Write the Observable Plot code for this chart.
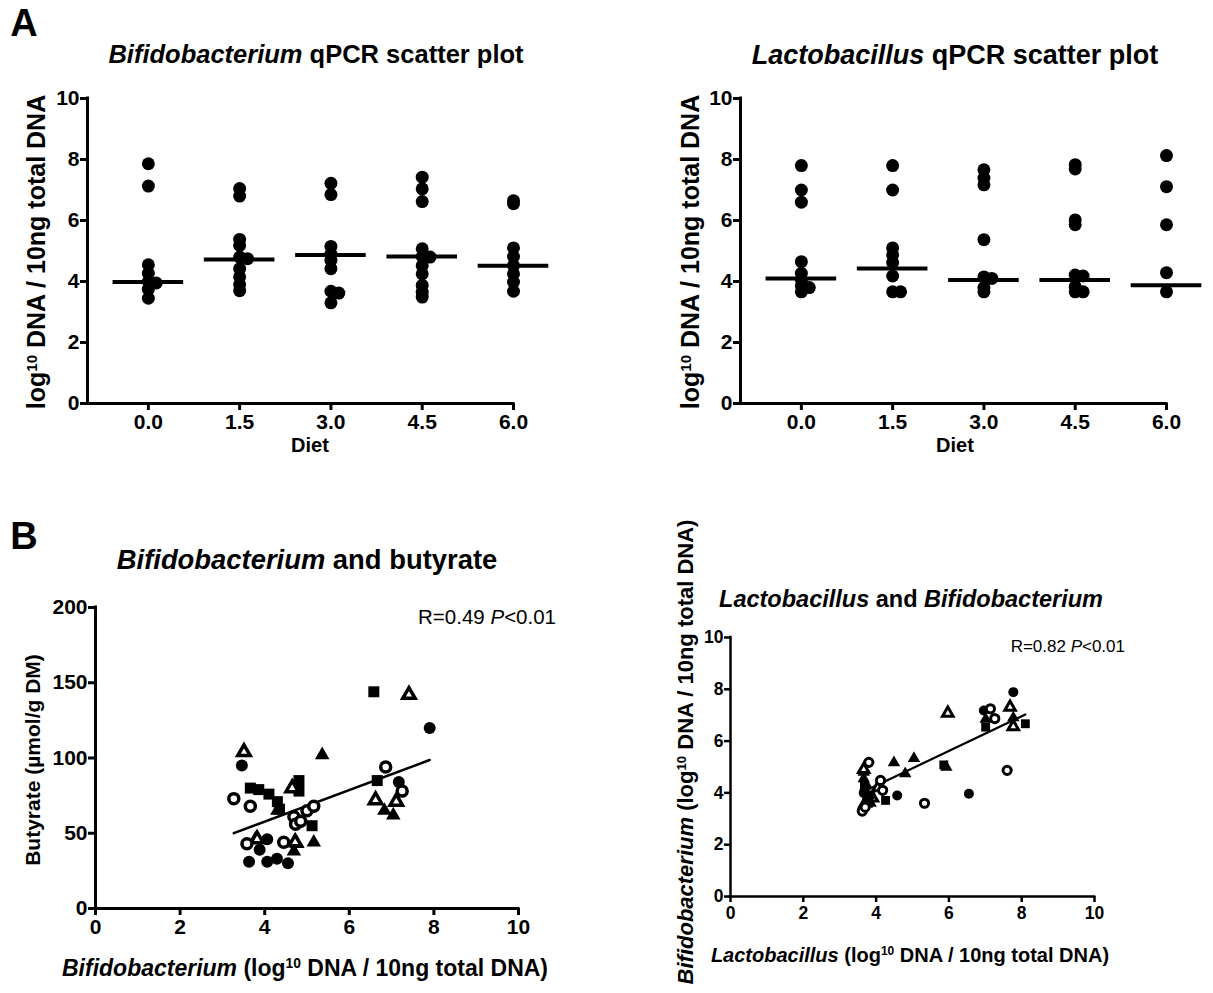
<!DOCTYPE html>
<html><head><meta charset="utf-8">
<script src="https://cdn.jsdelivr.net/npm/d3@7"></script>
<script src="https://cdn.jsdelivr.net/npm/@observablehq/plot@0.6"></script>
<style>
body{margin:0;background:#fff;font-family:"Liberation Sans",Arial,sans-serif;}
#wrap{position:relative;width:1213px;height:993px;overflow:hidden;background:#fff;}
.abs{position:absolute;white-space:nowrap;line-height:1;color:#000;}
.sup{font-size:0.6em;position:relative;top:-0.55em;}
</style></head><body><div id="wrap"></div>
<script>
// ---------- Panel A data (log10 DNA / 10ng total DNA) ----------
const diets = [0, 1.5, 3, 4.5, 6];
const dietLabels = ["0.0", "1.5", "3.0", "4.5", "6.0"];
const yTicksA = [0, 2, 4, 6, 8, 10];

const bifidoByDiet = [
  [7.86, 7.13, 4.55, 4.27, 4.0, 3.95, 3.75, 3.45],
  [7.05, 6.8, 5.38, 5.18, 4.8, 4.75, 4.42, 4.15, 3.9, 3.7],
  [7.22, 6.85, 5.15, 4.9, 4.7, 4.42, 3.68, 3.62, 3.3],
  [7.42, 7.04, 6.62, 5.07, 4.82, 4.8, 4.52, 4.25, 3.87, 3.65, 3.49],
  [6.65, 6.55, 5.1, 4.82, 4.52, 4.25, 3.98, 3.68]
];
const bifidoMedians = [3.98, 4.72, 4.87, 4.82, 4.52];

const lactoByDiet = [
  [7.8, 7.0, 6.6, 4.65, 4.27, 4.05, 3.85, 3.8, 3.66],
  [7.8, 7.0, 5.1, 4.87, 4.62, 4.18, 3.66, 3.66],
  [7.66, 7.39, 7.17, 5.37, 4.15, 4.1, 3.8, 3.66],
  [7.83, 7.69, 6.02, 5.86, 4.21, 4.18, 3.83, 3.66, 3.66],
  [8.13, 7.11, 5.86, 4.29, 3.66]
];
const lactoMedians = [4.1, 4.43, 4.05, 4.05, 3.88];

// ---------- Panel B left: [Bifidobacterium, butyrate] ----------
const b1FilledCircle = [[7.9,120],[7.17,84],[3.46,95],[3.63,31],[4.06,31],[4.29,33],[4.55,30],[3.88,39],[4.06,46]];
const b1OpenCircle = [[3.27,73],[3.66,68],[4.69,61],[4.73,56],[4.85,58],[5.0,65],[5.16,68],[3.58,43],[4.45,44],[6.86,94],[7.25,78]];
const b1Square = [[6.58,144],[6.66,85],[3.66,80],[3.86,79],[4.1,76],[4.3,71],[4.35,66],[4.81,85],[4.81,78],[5.12,55]];
const b1FilledTriangle = [[5.36,102],[5.16,44],[4.77,43],[4.69,38],[4.3,65],[3.78,46],[6.83,65],[7.04,62]];
const b1OpenTriangle = [[3.51,104],[7.41,142],[6.62,72],[7.11,71],[4.65,80],[3.82,46],[4.72,44]];
const b1Fit = {intercept: 15.7, slope: 10.5};
const b1XTicks = [0, 2, 4, 6, 8, 10];
const b1YTicks = [0, 50, 100, 150, 200];

// ---------- Panel B right: [Lactobacillus, Bifidobacterium] ----------
const b2FilledCircle = [[7.77,7.89],[6.96,7.18],[6.55,3.97],[4.58,3.9],[3.7,4.2],[3.7,3.5],[3.85,3.9],[3.66,4.0],[3.75,3.75]];
const b2OpenCircle = [[7.14,7.25],[7.26,6.87],[7.6,4.87],[5.33,3.6],[4.12,4.48],[4.18,4.1],[3.8,5.18],[3.62,3.3],[3.7,3.45]];
const b2Square = [[8.1,6.67],[7.01,6.54],[5.86,5.08],[4.26,3.71],[3.7,4.05],[3.78,3.7],[3.85,3.85],[3.68,4.3]];
const b2FilledTriangle = [[7.01,6.85],[7.77,6.9],[5.04,5.33],[4.49,5.17],[4.8,4.74],[5.93,4.99],[3.66,4.8],[3.66,4.55],[3.72,4.35],[3.85,3.6]];
const b2OpenTriangle = [[7.68,7.31],[7.77,6.56],[5.97,7.08],[3.66,4.9],[3.7,3.6],[3.9,3.8],[4.05,4.2]];
const b2Fit = {intercept: 1.6, slope: 0.67};
const b2Ticks = [0, 2, 4, 6, 8, 10];

// ---------- helpers ----------
const wrap = document.getElementById("wrap");
const FONT = '"Liberation Sans", Arial, sans-serif';
function place(svg, left, top) {
  svg.style.position = "absolute";
  svg.style.left = left + "px";
  svg.style.top = top + "px";
  wrap.appendChild(svg);
}
function addText(html, x, y, size, opts = {}) {
  const d = document.createElement("div");
  d.className = "abs";
  d.innerHTML = html;
  d.style.left = x + "px";
  d.style.top = y + "px";
  d.style.fontSize = size + "px";
  d.style.fontWeight = opts.weight || "bold";
  const tx = opts.anchor === "end" ? "-100%" : opts.anchor === "start" ? "0" : "-50%";
  d.style.transform = `translate(${tx},-50%)` + (opts.rotate ? " rotate(-90deg)" : "");
  wrap.appendChild(d);
}
// GraphPad-like column scatter: shift overlapping points sideways
function columnScatter(groups, thr) {
  const out = [];
  groups.forEach((vals, i) => {
    const placed = [];
    vals.forEach(v => {
      let chosen = 1;
      for (const o of [0, 1, -1, 2]) {
        if (placed.every(p => p.o !== o || Math.abs(p.v - v) >= thr)) { chosen = o; break; }
      }
      placed.push({v, o: chosen});
      out.push({diet: diets[i], value: v, shift: chosen});
    });
  });
  return out;
}
const baseStyle = {fontFamily: FONT, background: "transparent", overflow: "visible", color: "black"};

function scatterA(groups, medians) {
  const pts = columnScatter(groups, 0.09);
  const med = diets.map((d, i) => ({diet: d, m: medians[i]}));
  return Plot.plot({
    width: 540, height: 360, marginLeft: 87, marginRight: 27, marginTop: 18, marginBottom: 37,
    style: baseStyle,
    x: {domain: [-1, 6]}, y: {domain: [0, 10]},
    marks: [
      Plot.axisY({ticks: yTicksA, tickSize: 7, tickPadding: 1, strokeWidth: 3, label: null, fontSize: 21, fontWeight: "bold"}),
      Plot.axisX({ticks: diets, tickFormat: d => dietLabels[diets.indexOf(d)], tickSize: 7, tickPadding: 4, strokeWidth: 3, label: null, fontSize: 21, fontWeight: "bold"}),
      Plot.ruleY([0], {strokeWidth: 3, strokeLinecap: "square"}),
      Plot.ruleX([-1], {strokeWidth: 3, strokeLinecap: "square"}),
      Plot.dot(pts, {x: d => d.diet + d.shift * 0.13, y: "value", r: 6.5, fill: "black"}),
      Plot.ruleY(med, {y: "m", x1: d => d.diet - 0.58, x2: d => d.diet + 0.58, strokeWidth: 4})
    ]
  });
}

function fitLine(groups, fit) {
  const xs = groups.flat().map(p => p[0]);
  return d3.extent(xs).map(x => ({x, y: fit.intercept + fit.slope * x}));
}

function symbolMarks(sets, rr, sw) {
  const [fc, oc, sq, ft, ot] = sets;
  const X = p => p[0], Y = p => p[1];
  return [
    Plot.dot(sq, {x: X, y: Y, symbol: "square", r: rr.square, fill: "black"}),
    Plot.dot(ft, {x: X, y: Y, symbol: "triangle", r: rr.tri, fill: "black"}),
    Plot.dot(ot, {x: X, y: Y, symbol: "triangle", r: rr.otri, fill: "white", stroke: "black", strokeWidth: sw}),
    Plot.dot(fc, {x: X, y: Y, symbol: "circle", r: rr.circle, fill: "black"}),
    Plot.dot(oc, {x: X, y: Y, symbol: "circle", r: rr.open, fill: "white", stroke: "black", strokeWidth: sw})
  ];
}

// ---------- Panel A ----------
place(scatterA(bifidoByDiet, bifidoMedians), 0, 80);
place(scatterA(lactoByDiet, lactoMedians), 653, 80);

// ---------- Panel B left ----------
const b1Sets = [b1FilledCircle, b1OpenCircle, b1Square, b1FilledTriangle, b1OpenTriangle];
place(Plot.plot({
  width: 545, height: 360, marginLeft: 95, marginRight: 27, marginTop: 17, marginBottom: 42,
  style: baseStyle,
  x: {domain: [0, 10]}, y: {domain: [0, 200]},
  marks: [
    Plot.axisY({ticks: b1YTicks, tickSize: 7, tickPadding: 1, strokeWidth: 3, label: null, fontSize: 21, fontWeight: "bold"}),
    Plot.axisX({ticks: b1XTicks, tickSize: 7, tickPadding: 4, strokeWidth: 3, label: null, fontSize: 21, fontWeight: "bold"}),
    Plot.ruleY([0], {strokeWidth: 3, strokeLinecap: "square"}),
    Plot.ruleX([0], {strokeWidth: 3, strokeLinecap: "square"}),
    Plot.line(fitLine(b1Sets, b1Fit), {x: "x", y: "y", strokeWidth: 2.5}),
    ...symbolMarks(b1Sets, {square: 6.2, tri: 5.4, otri: 4.6, circle: 6, open: 5}, 3.5)
  ]
}), 0, 590);

// ---------- Panel B right ----------
const b2Sets = [b2FilledCircle, b2OpenCircle, b2Square, b2FilledTriangle, b2OpenTriangle];
place(Plot.plot({
  width: 470, height: 310, marginLeft: 90, marginRight: 16, marginTop: 17, marginBottom: 34,
  style: baseStyle,
  x: {domain: [0, 10]}, y: {domain: [0, 10]},
  marks: [
    Plot.axisY({ticks: b2Ticks, tickSize: 6, tickPadding: 1, strokeWidth: 2.5, label: null, fontSize: 17.5, fontWeight: "bold"}),
    Plot.axisX({ticks: b2Ticks, tickSize: 6, tickPadding: 4, strokeWidth: 2.5, label: null, fontSize: 17.5, fontWeight: "bold"}),
    Plot.ruleY([0], {strokeWidth: 2.5, strokeLinecap: "square"}),
    Plot.ruleX([0], {strokeWidth: 2.5, strokeLinecap: "square"}),
    Plot.line(fitLine(b2Sets, b2Fit), {x: "x", y: "y", strokeWidth: 2.2}),
    ...symbolMarks(b2Sets, {square: 5, tri: 4.6, otri: 3.9, circle: 5, open: 4.1}, 3)
  ]
}), 640, 620);

// ---------- Text ----------
const sup10 = '<span class="sup">10</span>';
addText("A", 24, 23, 38);
addText("B", 24, 536, 38);
addText("<i>Bifidobacterium</i> qPCR scatter plot", 316, 55, 25.5);
addText("<i>Lactobacillus</i> qPCR scatter plot", 955, 55, 27);
addText(`log${sup10} DNA / 10ng total DNA`, 36, 252, 25, {rotate: true});
addText(`log${sup10} DNA / 10ng total DNA`, 690, 252, 25, {rotate: true});
addText("Diet", 310, 445, 20);
addText("Diet", 955, 445, 20);

addText("<i>Bifidobacterium</i> and butyrate", 307, 560, 27.4);
addText("Butyrate (µmol/g DM)", 32, 760, 21, {rotate: true});
addText(`<i>Bifidobacterium</i> (log${sup10} DNA / 10ng total DNA)`, 305, 968, 23);
addText("R=0.49 <i>P</i>&lt;0.01", 556, 617, 20.5, {anchor: "end", weight: "normal"});

addText("<i>Lactobacillus</i> and <i>Bifidobacterium</i>", 911, 600, 23.5);
addText(`<i>Bifidobacterium</i> (log${sup10} DNA / 10ng total DNA)`, 686, 752, 22, {rotate: true});
addText(`<i>Lactobacillus</i> (log${sup10} DNA / 10ng total DNA)`, 910, 955, 20);
addText("R=0.82 <i>P</i>&lt;0.01", 1125, 646, 17, {anchor: "end", weight: "normal"});
</script>
</body></html>
